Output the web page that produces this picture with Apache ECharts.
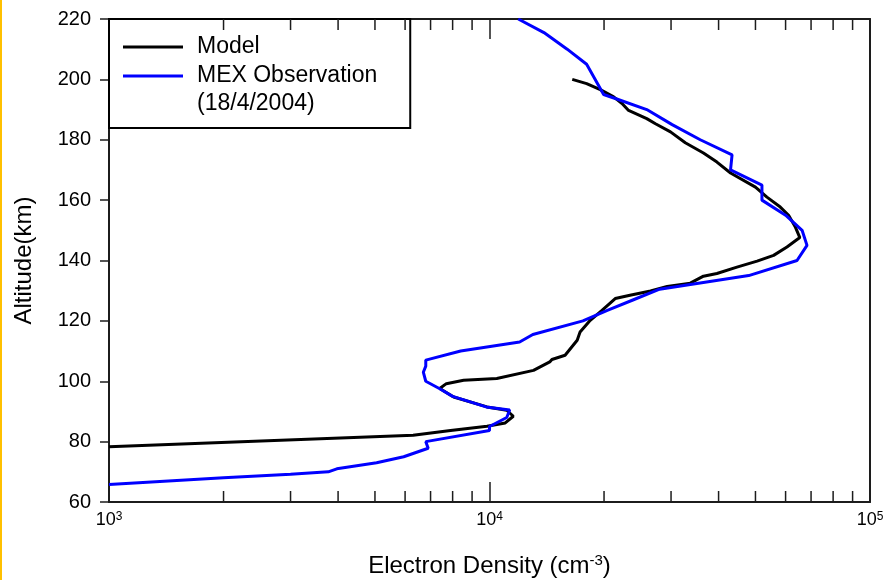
<!DOCTYPE html>
<html>
<head>
<meta charset="utf-8">
<script src="https://cdn.jsdelivr.net/npm/echarts@6/dist/echarts.min.js"></script>
<style>
html, body { margin: 0; padding: 0; background: #fff; }
#chart { width: 887px; height: 580px; }
</style>
</head>
<body>
<div id="chart"></div>
<script>
// Electron density profiles: model vs. Mars Express radio occultation
const modelAltitude = [200, 198.6, 196.6, 194.2, 192, 189.7, 187, 185.3, 182.6, 179, 175.6, 172.6, 169, 164.3, 161, 157.7, 155, 151, 147.6, 144.5, 141.7, 139.8, 137.8, 135.7, 134.8, 132.5, 131.4, 129.9, 128.5, 127.4, 123.5, 120.2, 116.3, 113.6, 108.6, 107.2, 106.4, 103.6, 100.9, 100.3, 99.2, 97.6, 94.8, 91.5, 90.4, 88.4, 86.2, 85.1, 83.7, 82.1, 78.3];
const modelDensity  = [16500, 18000, 19550, 21200, 22300, 23200, 25900, 27300, 29900, 32700, 36500, 39600, 43000, 50000, 53600, 58100, 61100, 63700, 65400, 60500, 55800, 50500, 44700, 39600, 36500, 33700, 29300, 26500, 23400, 21400, 19750, 18400, 17300, 17000, 15800, 14590, 14400, 13050, 10450, 8550, 7700, 7400, 8050, 9850, 11100, 11550, 11000, 9850, 7900, 6300, 1000];

const mexAltitude = [220, 215.5, 210, 205, 195, 193.5, 190, 185, 180, 175, 170, 165, 160, 155, 150, 145, 140, 135, 130.5, 127, 123.5, 120, 115.5, 113, 110, 107, 105, 103, 100, 97.5, 95, 91.5, 90.5, 88, 85, 83.7, 80, 77.8, 75, 73, 71, 70, 69.2, 68, 65.8];
const mexDensity  = [11900, 13900, 16000, 18000, 19950, 21600, 25900, 30200, 35800, 43400, 43000, 52000, 52000, 60000, 66300, 68300, 64300, 48000, 28000, 23900, 20400, 17600, 13000, 12000, 8400, 6800, 6800, 6700, 6800, 7400, 8000, 9800, 11300, 11100, 10000, 10000, 6800, 6900, 5950, 5050, 3970, 3770, 3000, 2000, 1000];

const seriesNames = ['Model', 'MEX Observation'];
const mexDateNote = '(18/4/2004)';

// Axis ranges and tick labels
const altitudeRange = [60, 220];
const altitudeStep = 20;
const densityRange = [1000, 100000];
const densityExponents = { 1000: '3', 10000: '4', 100000: '5' };
const densityMinorTicks = [2000, 3000, 4000, 5000, 6000, 7000, 8000, 9000,
                           20000, 30000, 40000, 50000, 60000, 70000, 80000, 90000];

const FONT = '"Liberation Sans", Arial, sans-serif';
const AXIS_COLOR = '#1c1c1c';

const zip = (xs, ys) => xs.map((x, i) => [x, ys[i]]);

const chart = echarts.init(document.getElementById('chart'), null, { renderer: 'canvas' });

const densityAxisBase = {
  type: 'log',
  logBase: 10,
  min: densityRange[0],
  max: densityRange[1],
  splitLine: { show: false },
  minorTick: { show: false },
  axisLine: { show: true, lineStyle: { color: AXIS_COLOR, width: 2 } },
  axisTick: { show: true, inside: true, length: 20, lineStyle: { color: AXIS_COLOR, width: 1.5 } }
};

const altitudeAxisBase = {
  type: 'value',
  min: altitudeRange[0],
  max: altitudeRange[1],
  interval: altitudeStep,
  splitLine: { show: false },
  axisLine: { show: true, lineStyle: { color: AXIS_COLOR, width: 2 } }
};

chart.setOption({
  backgroundColor: '#ffffff',
  animation: false,
  textStyle: { fontFamily: FONT, color: '#000' },
  grid: { left: 109, top: 19, right: 17, bottom: 78, containLabel: false, outerBoundsMode: 'none' },
  legend: {
    data: [
      { name: seriesNames[0], icon: 'rect', itemStyle: { color: '#000' } },
      { name: seriesNames[1], icon: 'rect', itemStyle: { color: '#0000FF' } }
    ],
    orient: 'vertical',
    left: 109,
    top: 19,
    padding: [14, 33, 38, 14],
    itemWidth: 60,
    itemHeight: 3,
    itemGap: 1,
    borderColor: '#000',
    borderWidth: 2,
    borderRadius: 0,
    backgroundColor: '#fff',
    textStyle: { fontFamily: FONT, fontSize: 23, lineHeight: 28, color: '#000', padding: [0, 0, 0, 9] }
  },
  xAxis: [
    Object.assign({}, densityAxisBase, {
      position: 'bottom',
      name: 'Electron Density (cm{sup|-3})',
      nameLocation: 'middle',
      nameGap: 51,
      nameTextStyle: {
        fontFamily: FONT, fontSize: 24, color: '#000',
        rich: { sup: { fontFamily: FONT, fontSize: 15, verticalAlign: 'top', padding: [0, 0, 11, 0] } }
      },
      axisLabel: {
        margin: 9,
        formatter: v => '{b|10}{s|' + densityExponents[Math.round(v)] + '}',
        rich: {
          b: { fontFamily: FONT, fontSize: 18, color: '#000' },
          s: { fontFamily: FONT, fontSize: 12, color: '#000', verticalAlign: 'top', padding: [0, 0, 6, 0] }
        }
      }
    }),
    Object.assign({}, densityAxisBase, {
      position: 'top',
      axisLabel: { show: false }
    })
  ],
  yAxis: [
    Object.assign({}, altitudeAxisBase, {
      position: 'left',
      name: 'Altitude(km)',
      nameLocation: 'middle',
      nameGap: 73,
      nameTextStyle: { fontFamily: FONT, fontSize: 24, color: '#000' },
      axisTick: { show: true, inside: false, length: 9, lineStyle: { color: AXIS_COLOR, width: 1.5 } },
      axisLabel: { margin: 18, fontFamily: FONT, fontSize: 20, color: '#000' }
    }),
    Object.assign({}, altitudeAxisBase, {
      position: 'right',
      axisTick: { show: false },
      axisLabel: { show: false }
    })
  ],
  graphic: [
    { type: 'rect', left: 0, top: 0, z: 100, shape: { width: 2, height: 580 }, style: { fill: '#FFC000' }, silent: true },
    { type: 'text', left: 197, top: 92, z: 100, style: { text: mexDateNote, fontFamily: FONT, fontSize: 23, fill: '#000' }, silent: true }
  ],
  series: [
    {
      name: seriesNames[0],
      type: 'line',
      xAxisIndex: 0, yAxisIndex: 0,
      data: zip(modelDensity, modelAltitude),
      showSymbol: false, symbol: 'none',
      lineStyle: { color: '#000', width: 3 },
      itemStyle: { color: '#000' },
      clip: true, z: 3
    },
    {
      name: seriesNames[1],
      type: 'line',
      xAxisIndex: 0, yAxisIndex: 0,
      data: zip(mexDensity, mexAltitude),
      showSymbol: false, symbol: 'none',
      lineStyle: { color: '#0000FF', width: 3 },
      itemStyle: { color: '#0000FF' },
      clip: true, z: 4
    },
    {
      // minor decade ticks on the bottom and top frame, pointing inward
      type: 'custom',
      xAxisIndex: 0, yAxisIndex: 0,
      silent: true,
      clip: false,
      data: densityMinorTicks.map(v => [v, altitudeRange[0]]),
      encode: { x: 0, y: 1 },
      renderItem: (params, api) => {
        const v = api.value(0);
        const b = api.coord([v, altitudeRange[0]]);
        const t = api.coord([v, altitudeRange[1]]);
        const st = { stroke: AXIS_COLOR, lineWidth: 1.5 };
        return {
          type: 'group',
          children: [
            { type: 'line', shape: { x1: b[0], y1: b[1], x2: b[0], y2: b[1] - 11 }, style: st },
            { type: 'line', shape: { x1: t[0], y1: t[1], x2: t[0], y2: t[1] + 11 }, style: st }
          ]
        };
      },
      z: 5
    }
  ]
});
</script>
</body>
</html>
